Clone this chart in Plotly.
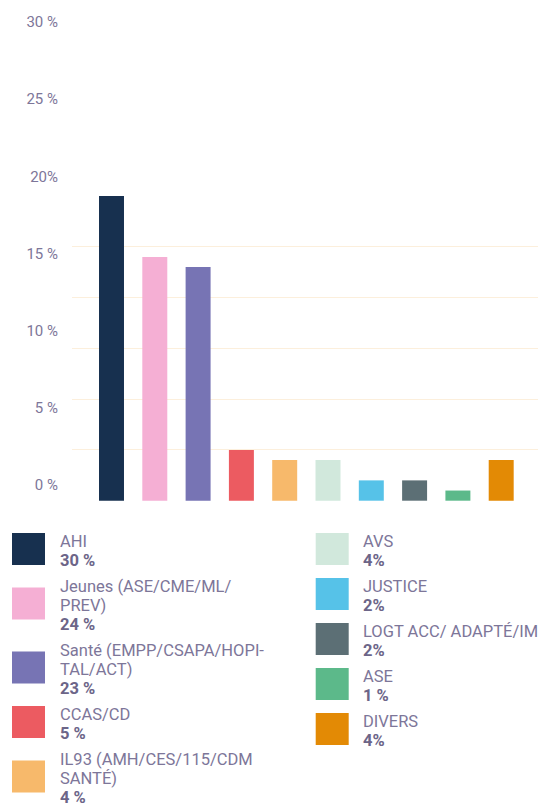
import plotly.graph_objects as go

# ---- data ----
categories = ["AHI", "Jeunes (ASE/CME/ML/\nPREV)", "Santé (EMPP/CSAPA/HOPI-\nTAL/ACT)",
              "CCAS/CD", "IL93 (AMH/CES/115/CDM\nSANTÉ)", "AVS", "JUSTICE",
              "LOGT ACC/ ADAPTÉ/IML)", "ASE", "DIVERS"]
values = [30, 24, 23, 5, 4, 4, 2, 2, 1, 4]
value_labels = ["30 %", "24 %", "23 %", "5 %", "4 %", "4%", "2%", "2%", "1 %", "4%"]
colors = ["#17304f", "#f5afd4", "#7774b4", "#ec5b61", "#f7b96b",
          "#d1e8dc", "#56c2e8", "#5c6f75", "#5cb98a", "#e38a05"]
tick_vals = [0, 5, 10, 15, 20, 25, 30]
tick_text = ["0 %", "5 %", "10 %", "15 %", "20%", "25 %", "30 %"]

OFF = 8  # default page body margin
W, H = 546 - OFF, 804 - OFF
FONT = "Roboto"
TXT = "#7d7699"
TXT_B = "#6c6588"

def py(px):  # window pixel from top -> paper fraction
    return 1 - (px - OFF) / H

def pxf(px):
    return (px - OFF) / W

fig = go.Figure()
fig.add_trace(go.Bar(
    x=list(range(len(values))), y=values, width=0.577,
    marker=dict(color=colors, line=dict(width=0)),
    hoverinfo="skip", showlegend=False,
))
# invisible trace to host the label axis
fig.add_trace(go.Scatter(x=[None], y=[None], xaxis="x2", yaxis="y2",
                         showlegend=False, hoverinfo="skip"))

x_lo = (72 - 111.5) / 43.3
x_hi = (546 - 111.5) / 43.3

fig.update_layout(
    width=W, height=H,
    margin=dict(l=0, r=0, t=0, b=0),
    paper_bgcolor="white", plot_bgcolor="rgba(0,0,0,0)",
    showlegend=False,
    xaxis=dict(domain=[pxf(72), 1], range=[x_lo, x_hi], showticklabels=False,
               showgrid=False, zeroline=False, fixedrange=True),
    yaxis=dict(domain=[py(501), py(195.7)], range=[-0.03, 30.03], tickvals=tick_vals,
               showticklabels=False, showgrid=True, gridcolor="#fcefdc",
               gridwidth=1.3, zeroline=False, fixedrange=True),
    xaxis2=dict(domain=[pxf(72), 1], anchor="y2", visible=False, range=[0, 1]),
    yaxis2=dict(domain=[py(485), py(22)], anchor="x2", range=[0, 30],
                tickvals=tick_vals, ticktext=tick_text, showgrid=False,
                zeroline=False, ticks="", ticklabelstandoff=13,
                tickfont=dict(family=FONT, size=15, color=TXT), automargin=False),
)

# ---- custom legend ----
shapes = []
annotations = []
cols = [
    dict(idx=[0, 1, 2, 3, 4], sq_x=12, tx=58),
    dict(idx=[5, 6, 7, 8, 9], sq_x=315.7, tx=360.7),
]
pitch = 19.0
gap = 26
for col in cols:
    y = 541.5
    for i in col["idx"]:
        lines = categories[i].split("\n")
        n = len(lines) + 1
        for k, ln in enumerate(lines):
            annotations.append(dict(
                x=pxf(col["tx"]), y=py(y + k * pitch), xref="paper", yref="paper",
                text=ln, showarrow=False, xanchor="left", yanchor="middle",
                font=dict(family=FONT, size=16.5, color=TXT)))
        annotations.append(dict(
            x=pxf(col["tx"]), y=py(y + (n - 1) * pitch), xref="paper", yref="paper",
            text="<b>" + value_labels[i] + "</b>", showarrow=False, xanchor="left",
            yanchor="middle", font=dict(family=FONT, size=16.5, color=TXT_B)))
        center = y + (n - 1) * pitch / 2 - 2
        shapes.append(dict(
            type="rect", xref="paper", yref="paper",
            x0=pxf(col["sq_x"]), x1=pxf(col["sq_x"] + 33),
            y0=py(center - 16), y1=py(center + 16),
            fillcolor=colors[i], line=dict(width=0)))
        y += (n - 1) * pitch + gap

fig.update_layout(shapes=shapes, annotations=annotations)
fig.write_html("out.html")
